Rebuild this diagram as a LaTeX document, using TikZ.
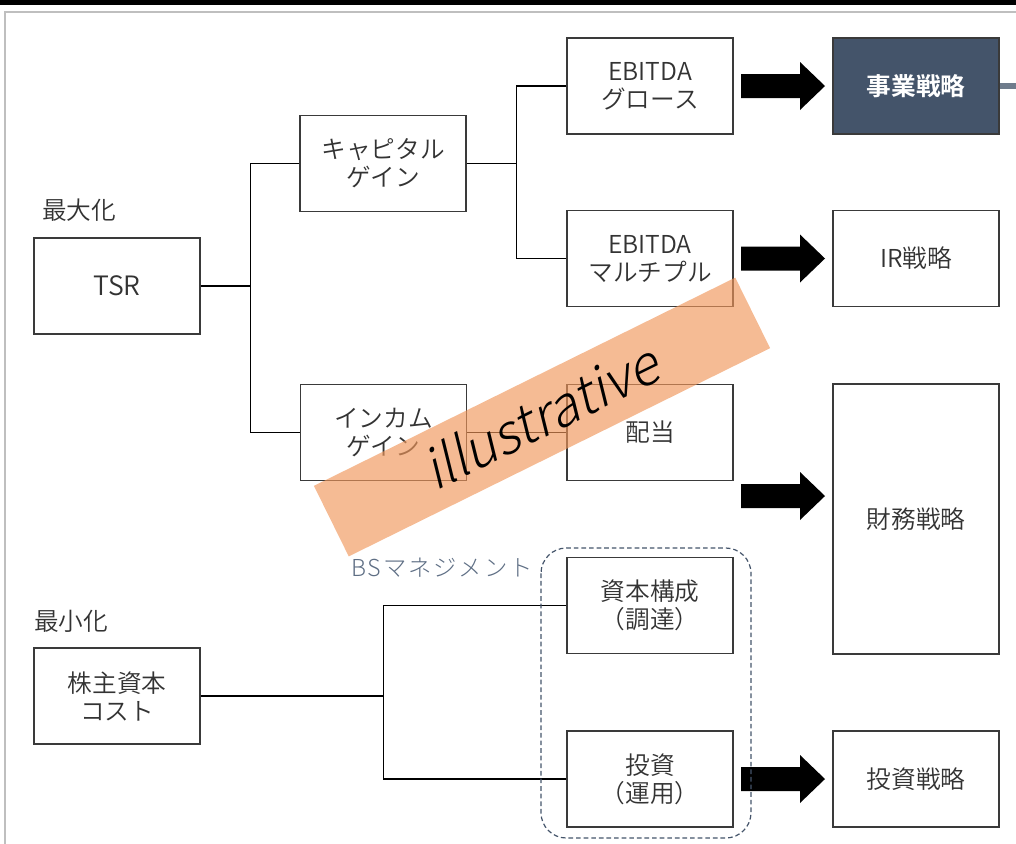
\documentclass[tikz,border=0pt]{standalone}
\usepackage{fontspec}
\setmainfont{Noto Sans CJK JP DemiLight}[BoldFont={Noto Sans CJK JP Bold}]
\newfontfamily\illfont[FakeSlant=0.22]{Noto Sans CJK JP Light}
\newfontfamily\bsfont[LetterSpace=8]{Noto Sans CJK JP Light}
\definecolor{slate}{HTML}{44546A}
\definecolor{bslabel}{HTML}{5E6E84}
\definecolor{txt}{HTML}{333333}
\definecolor{boxline}{HTML}{3A3A3A}
\definecolor{framegray}{HTML}{BFBFBF}
\definecolor{bannerc}{RGB}{240,150,90}
\definecolor{tailgray}{HTML}{6F7C8C}
\tikzset{
  box/.style={draw=boxline, line width=1.1pt, fill=white, minimum width=124.5pt,
    minimum height=72pt, inner sep=0pt, align=center, text=txt,
    font=\fontsize{18.5}{21}\selectfont},
  darkbox/.style={box, fill=slate, text=white, font=\fontsize{18.5}{21}\selectfont\bfseries},
  conn/.style={draw=black, line width=1.1pt},
  blockarrow/.style={fill=black},
  sidelabel/.style={anchor=west, inner sep=0pt, text=txt, font=\fontsize{18.5}{21}\selectfont},
}
\begin{document}
\begin{tikzpicture}[x=0.75pt,y=-0.75pt]
\useasboundingbox (0,0) rectangle (1016,843);
% top bar and frame
\fill[black] (0,0) rectangle (1016,5);
\draw[framegray, line width=1.1pt] (5,850) -- (5,12) -- (1020,12);

% boxes
\node[box] (tsr) at (117,286) {\fontsize{20}{21}\selectfont TSR};
\node[box] (cap) at (383,163.5) {キャピタル\\ゲイン};
\node[box] (inc) at (383.5,432.5) {インカム\\ゲイン};
\node[box] (eg) at (650,86) {EBITDA\\グロース};
\node[box] (em) at (650,258.5) {EBITDA\\マルチプル};
\node[box] (div) at (650,432.5) {配当};
\node[box] (shihon) at (650,605.5) {資本構成\\（調達）};
\node[box] (toushi) at (650,779) {投資\\（運用）};
\node[box] (kabu) at (117,696) {株主資本\\コスト};
\node[darkbox] (jigyo) at (916,86) {事業戦略};
\node[box] (ir) at (916,258.5) {IR戦略};
\node[box, minimum height=202.5pt] (zaimu) at (916,519) {財務戦略};
\node[box] (tousen) at (916,779) {投資戦略};

% side labels
\node[sidelabel] (max) at (42,210) {最大化};
\node[sidelabel] (min) at (34,621) {最小化};
\node[anchor=west, inner sep=0pt, text=bslabel, font=\bsfont\fontsize{17.5}{19}\selectfont] (bs) at (351,568) {BSマネジメント};

% connectors
\draw[conn] (tsr.east) -- ++(50,0) coordinate (j1);
\draw[conn] (cap.west) -| (j1) |- (inc.west);
\draw[conn] (cap.east) -- ++(50,0) coordinate (j2);
\draw[conn] (eg.west) -| (j2) |- (em.west);
\draw[conn] (inc.east) -- (div.west);
\draw[conn] (kabu.east) -- ++(183,0) coordinate (j3);
\draw[conn] (shihon.west) -| (j3) |- (toushi.west);

% tail from 事業戦略
\coordinate (tailend) at (1016,86);
\draw[tailgray, line width=4.5pt] (jigyo.east) -- (tailend);

% block arrows
\foreach \yy in {86,258.5,496,779}{
  \fill[blockarrow] (741,\yy-12) -- (800,\yy-12) -- (800,\yy-24) -- (825,\yy)
    -- (800,\yy+24) -- (800,\yy+12) -- (741,\yy+12) -- cycle;
}

% dashed group
\draw[slate, line width=0.9pt, dash pattern=on 3.5pt off 2.2pt, rounded corners=19pt]
  (541,548) rectangle (751,838);

% banner
\node[fill=bannerc, fill opacity=0.65, minimum width=352.5pt, minimum height=59pt,
  inner sep=0pt, rotate=26.3] (banner) at (542,417) {};
\node[rotate=26.3, inner sep=0pt, text=black, font=\illfont\fontsize{41}{41}\selectfont]
  (ill) at (540,416) {illustrative};
\end{tikzpicture}
\end{document}
